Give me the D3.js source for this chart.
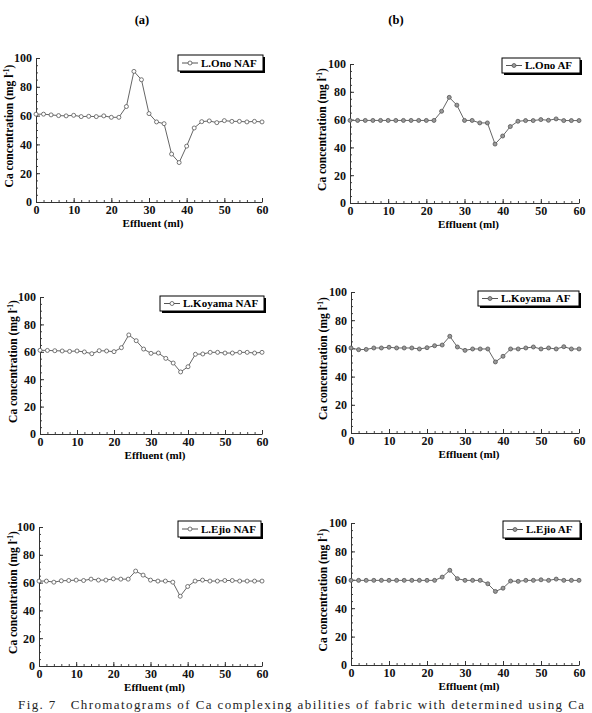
<!DOCTYPE html>
<html lang="en">
<head>
<meta charset="utf-8">
<title>Ca concentration of effluent</title>
<script src="https://d3js.org/d3.v7.min.js"></script>
<style>
  body { margin: 0; background: #fff; }
  svg text { font-family: "Liberation Serif", "Times New Roman", serif; }
  .tick text { font-weight: bold; font-size: 12px; }
</style>
</head>
<body>
<div id="chart"></div>
<script>
// effluent volume (ml), one sample every 2 ml
var xValues = d3.range(0, 61, 2);

var onoNAF = [61, 61, 60.5, 60, 59.8, 60.2, 59.3, 59.5, 59.3, 59.8, 58.8, 58.8, 66.3, 90.7, 84.9, 61.4,
  55.6, 54.4, 33.3, 27.4, 38.8, 51.4, 55.8, 56.3, 55.1, 56.5, 56, 56, 55.6, 56, 55.6];
var onoAF = [59.4, 59.4, 59.4, 59.4, 59.4, 59.4, 59.4, 59.4, 59.4, 59.4, 59.4, 59.4, 66, 76, 70.4, 59.4,
  59.4, 57.6, 57.6, 42.4, 48.2, 55, 58.8, 59.3, 59.3, 60, 59.5, 60.5, 59.3, 59.3, 59.3];
var koyamaNAF = [61.1, 61, 60.8, 60.6, 60.3, 60.6, 59.9, 58.6, 60.8, 60.6, 60.1, 63, 72.3, 68.1, 62, 58.9,
  59.1, 55.2, 51.8, 45.3, 49.1, 58.2, 58.4, 59.6, 59.6, 59.1, 59.1, 59.6, 59.6, 59.1, 59.6];
var koyamaAF = [60.3, 59.1, 59.3, 60.3, 60.3, 60.8, 60.3, 60.3, 60.3, 59.6, 60.5, 61.9, 62.4, 68.6, 61, 58.6,
  59.6, 59.6, 59.6, 50.4, 54.4, 59.6, 59.6, 60.3, 61, 59.6, 60.3, 59.6, 61.2, 59.6, 59.6];
var ejioNAF = [61.1, 61.1, 60.3, 61.3, 61.5, 61.8, 61.5, 62.5, 61.8, 61.8, 62.7, 62.5, 62.5, 68.3, 65.4, 61.8,
  61.1, 61.1, 60.3, 50.2, 57.2, 61.1, 61.8, 61.1, 61.1, 61.5, 61.5, 61.1, 61.1, 61.1, 61.1];
var ejioAF = [59.6, 59.6, 59.6, 59.6, 59.6, 59.6, 59.6, 59.6, 59.6, 59.6, 59.6, 59.6, 61.9, 66.7, 60.8, 59.6,
  59.6, 59.6, 57.2, 51.8, 54.1, 59.1, 58.9, 59.6, 59.6, 60, 59.6, 60.5, 59.6, 59.6, 59.6];

var seriesNames = ["L.Ono NAF", "L.Ono AF", "L.Koyama NAF", "L.Koyama  AF", "L.Ejio NAF", "L.Ejio AF"];
var seriesValues = [onoNAF, onoAF, koyamaNAF, koyamaAF, ejioNAF, ejioAF];
var xTicks = [0, 10, 20, 30, 40, 50, 60];
var yTicks = [0, 20, 40, 60, 80, 100];
var columnTitles = ["(a)", "(b)"];

// plot frames: left, top, right, bottom, y-title x, legend box x, y, w, h
var frames = [
  [36, 58, 262, 202, 9, 178, 55, 85, 16],
  [350, 64, 579, 203, 322, 502, 58, 78, 15],
  [40, 297, 262, 434, 13, 160, 296, 104, 15],
  [351, 292, 579, 433, 323, 478, 291, 101, 15],
  [39, 527, 262, 666, 13, 178, 521, 83, 16],
  [351, 523, 579, 665, 323, 503, 521, 77, 17]
];

var W = 592, H = 713;
var svg = d3.select("#chart").append("svg").attr("width", W).attr("height", H)
  .attr("font-family", "Liberation Serif");

svg.selectAll(".coltitle")
  .data(columnTitles)
  .enter().append("text")
  .attr("class", "coltitle")
  .attr("x", function(d, i) { return [142, 396][i]; })
  .attr("y", 24)
  .attr("text-anchor", "middle")
  .attr("font-weight", "bold")
  .attr("font-size", "12.5px")
  .text(function(d) { return d; });

function styleAxis(s) {
  s.attr("font-family", null).attr("font-size", null);
  s.selectAll("line").attr("stroke", "#333");
  s.select(".domain").attr("stroke", "#333");
  s.selectAll("text").attr("fill", "#111");
}

seriesValues.forEach(function(vals, k) {
  var f = frames[k];
  var isAF = k % 2 == 1;
  var x = d3.scaleLinear().domain([0, 60]).range([f[0], f[2]]);
  var y = d3.scaleLinear().domain([0, 100]).range([f[3], f[1]]);
  var g = svg.append("g");

  // minor ticks
  g.append("g").attr("transform", "translate(0," + f[3] + ")")
    .call(d3.axisBottom(x).tickValues(d3.range(0, 61, 2)).tickSize(-2).tickFormat(""))
    .call(function(s) { s.select(".domain").remove(); s.selectAll("line").attr("stroke", "#444"); });
  g.append("g").attr("transform", "translate(" + f[0] + ",0)")
    .call(d3.axisLeft(y).tickValues(d3.range(0, 101, 5)).tickSize(-2).tickFormat(""))
    .call(function(s) { s.select(".domain").remove(); s.selectAll("line").attr("stroke", "#444"); });

  // major axes
  g.append("g").attr("transform", "translate(0," + f[3] + ")")
    .call(d3.axisBottom(x).tickValues(xTicks).tickSizeInner(-4).tickSizeOuter(0).tickPadding(3))
    .call(styleAxis);
  g.append("g").attr("transform", "translate(" + f[0] + ",0)")
    .call(d3.axisLeft(y).tickValues(yTicks).tickSizeInner(-4).tickSizeOuter(0).tickPadding(4))
    .call(styleAxis);

  // axis titles
  g.append("text")
    .attr("x", (f[0] + f[2]) / 2 + 4)
    .attr("y", f[3] + 25)
    .attr("text-anchor", "middle")
    .attr("font-weight", "bold")
    .attr("font-size", "11px")
    .text("Effluent (ml)");
  var yt = g.append("text")
    .attr("transform", "translate(" + f[4] + "," + ((f[1] + f[3]) / 2 - 4) + ") rotate(-90)")
    .attr("text-anchor", "middle")
    .attr("dy", "0.35em")
    .attr("font-weight", "bold")
    .attr("font-size", "11.5px");
  yt.append("tspan").text("Ca concentration (mg l");
  yt.append("tspan").attr("dy", "-4").attr("font-size", "7.5px").text("-1");
  yt.append("tspan").attr("dy", "4").text(")");

  // series
  var line = d3.line().x(function(d, i) { return x(xValues[i]); }).y(function(d) { return y(d); });
  g.append("path").datum(vals)
    .attr("d", line)
    .attr("fill", "none")
    .attr("stroke", "#666")
    .attr("stroke-width", 1);
  g.selectAll(".pt").data(vals).enter().append("circle")
    .attr("class", "pt")
    .attr("cx", function(d, i) { return x(xValues[i]); })
    .attr("cy", function(d) { return y(d); })
    .attr("r", 2)
    .attr("fill", isAF ? "#999" : "#fff")
    .attr("stroke", "#555")
    .attr("stroke-width", 0.8);

  // legend
  var lg = g.append("g").attr("transform", "translate(" + f[5] + "," + f[6] + ")");
  lg.append("rect").attr("x", 2).attr("y", 2).attr("width", f[7]).attr("height", f[8]).attr("fill", "#000");
  lg.append("rect").attr("width", f[7]).attr("height", f[8]).attr("fill", "#fff").attr("stroke", "#000").attr("stroke-width", 1);
  lg.append("line").attr("x1", 4).attr("x2", 20).attr("y1", f[8] / 2).attr("y2", f[8] / 2).attr("stroke", "#555");
  lg.append("circle").attr("cx", 12).attr("cy", f[8] / 2).attr("r", 2)
    .attr("fill", isAF ? "#999" : "#fff").attr("stroke", "#555").attr("stroke-width", 0.8);
  lg.append("text").attr("x", 23).attr("y", f[8] / 2).attr("dy", "0.35em")
    .attr("font-weight", "bold").attr("font-size", "11px").style("white-space", "pre")
    .text(seriesNames[k]);
});

svg.append("text")
  .attr("x", 18)
  .attr("y", 709)
  .attr("font-size", "13px")
  .attr("fill", "#222")
  .attr("textLength", 566)
  .style("white-space", "pre")
  .text("Fig. 7   Chromatograms of Ca complexing abilities of fabric with determined using Ca");
</script>
</body>
</html>
